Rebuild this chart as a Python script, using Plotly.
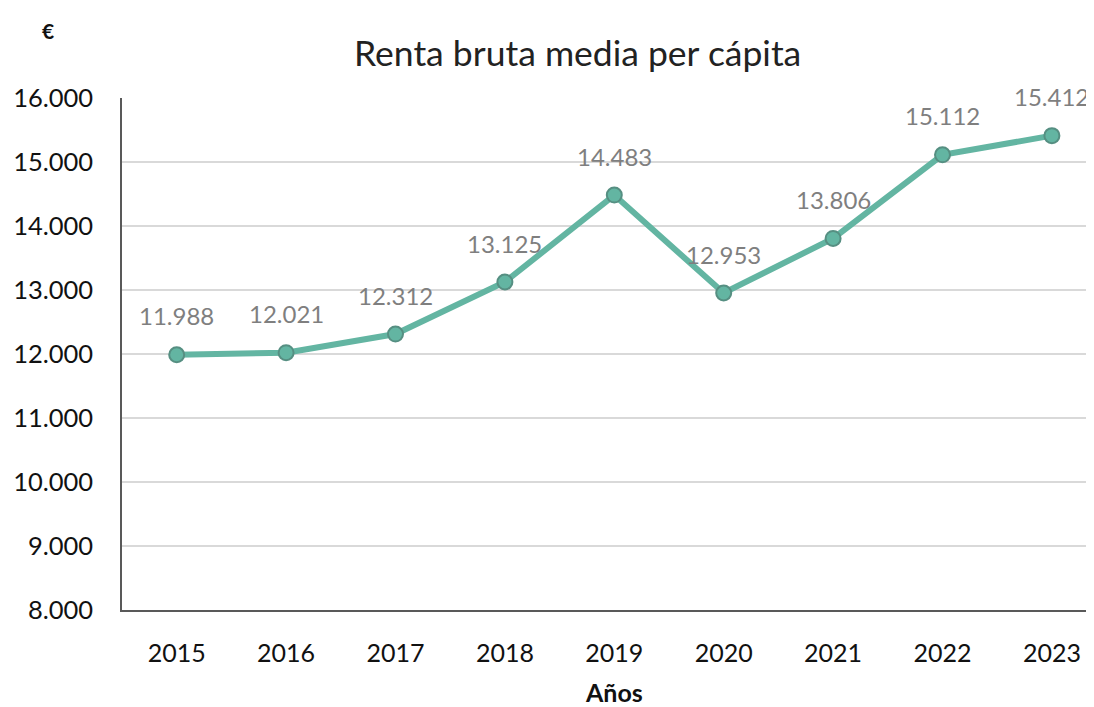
import plotly.graph_objects as go

years = ["2015", "2016", "2017", "2018", "2019", "2020", "2021", "2022", "2023"]
renta = [11988, 12021, 12312, 13125, 14483, 12953, 13806, 15112, 15412]
labels = ["11.988", "12.021", "12.312", "13.125", "14.483", "12.953", "13.806", "15.112", "15.412"]
ytick_vals = [8000, 9000, 10000, 11000, 12000, 13000, 14000, 15000, 16000]
ytick_text = ["8.000", "9.000", "10.000", "11.000", "12.000", "13.000", "14.000", "15.000", "16.000"]

FONT = "Lato, 'Open Sans', sans-serif"
W, H = 1094, 707
OFF = 8  # page body offset
# target screen positions of plot area
SL, ST, SR, SB = 122, 98, 1102, 610
L, T = SL - OFF, ST - OFF
R = W - (SR - OFF)
B = H - (SB - OFF)


def px(sx):
    return (sx - SL) / (SR - SL)


def py(sy):
    return (SB - sy) / (SB - ST)


fig = go.Figure()
fig.add_trace(go.Scatter(
    x=years, y=renta, mode="lines+markers",
    line=dict(color="#63B5A2", width=6),
    marker=dict(size=15, color="#63B5A2", line=dict(color="#568F82", width=2)),
    hoverinfo="skip", showlegend=False, cliponaxis=False,
))

annotations = []
for i, (v, t) in enumerate(zip(renta, labels)):
    annotations.append(dict(xref="x", yref="y", x=i, y=v, text=t, showarrow=False, yshift=39,
                            font=dict(family=FONT, size=24, color="#7F7F7F")))

annotations.append(dict(xref="paper", yref="paper", x=px(577), y=py(52),
                        text="Renta bruta media per cápita", showarrow=False,
                        font=dict(family=FONT, size=35.5, color="#222222"), xanchor="center", yanchor="middle"))
annotations.append(dict(xref="paper", yref="paper", x=px(48), y=py(30),
                        text="<b>€</b>", showarrow=False,
                        font=dict(family=FONT, size=21, color="#111111"), xanchor="center", yanchor="middle"))
annotations.append(dict(xref="paper", yref="paper", x=px(614), y=py(692),
                        text="<b>Años</b>", showarrow=False,
                        font=dict(family=FONT, size=25, color="#111111"), xanchor="center", yanchor="middle"))

fig.update_layout(
    width=W, height=H,
    margin=dict(l=L, r=R, t=T, b=B, autoexpand=False),
    paper_bgcolor="white", plot_bgcolor="white",
    annotations=annotations,
    xaxis=dict(type="category", range=[-0.5, 8.458], showgrid=False, automargin=False,
               showline=True, linecolor="#595959", linewidth=1.5,
               ticks="", ticklabelstandoff=20,
               tickfont=dict(family=FONT, size=25, color="#111111")),
    yaxis=dict(range=[8000, 16000], tickvals=ytick_vals, ticktext=ytick_text, automargin=False,
               showgrid=True, gridcolor="#D9D9D9", gridwidth=2,
               showline=True, linecolor="#595959", linewidth=1.5,
               ticks="", ticklabelstandoff=22, zeroline=False,
               tickfont=dict(family=FONT, size=25.5, color="#111111")),
)

fig.write_html("out.html")
